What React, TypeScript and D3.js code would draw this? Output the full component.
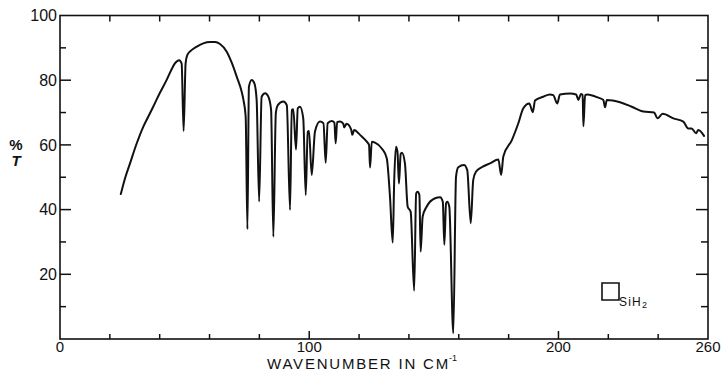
import React from "react";
import * as d3 from "d3";

// Wavenumber (cm^-1) and %T readings along the traced spectrum
const wavenumber: number[] = [
  24.4, 26.1, 28.1, 30.8, 33.4, 35.4, 37.4, 40.1, 42.8, 44.8, 46.1, 47.8, 48.8, 49.6, 50.4,
  51.1, 52.8, 54.9, 57.5, 60.2, 62.2, 64.2, 66.9, 68.9, 70.9, 72.9, 73.6, 74.5, 75.2, 75.8,
  76.9, 78.0, 78.9, 79.9, 80.9, 82.3, 83.6, 84.7, 85.6, 86.6,
  87.4, 89.6, 91.0, 92.3, 93.0, 93.6, 94.7, 95.4, 96.3, 97.6, 98.6, 99.4, 99.9, 101.0, 102.3,
  104.3, 105.7, 106.6, 107.4, 109.0, 110.1, 110.6, 111.2, 112.4, 113.7, 114.0, 115.0, 116.8,
  117.3, 118.0, 120.4, 123.1, 124.0, 124.4, 125.1, 126.4, 129.1, 131.1, 132.4, 133.5, 134.1,
  134.8, 135.4, 136.0, 136.7, 137.2, 138.4, 139.5, 140.7, 142.1, 142.9, 143.5, 144.2, 144.7,
  145.5, 147.1, 150.5, 152.5, 153.6, 154.2, 154.9, 155.4, 156.2, 157.8, 158.9, 159.8, 162.1,
  163.4, 164.8, 165.8, 166.9, 169.2, 172.5, 175.9, 177.0, 177.9, 181.3, 183.9, 185.9, 188.3,
  189.7, 190.6, 193.9, 196.6, 197.9, 199.5, 200.6, 204.7, 207.1, 208.0, 209.0, 209.7, 210.0,
  210.7, 211.6, 216.0, 218.0, 218.7, 219.4, 224.7, 229.4, 234.1, 238.4, 239.7, 241.8, 246.1,
  250.1, 252.1, 253.4, 255.2, 256.1, 258.4,
];
const transmittance: number[] = [
  44.8, 49.7, 54.3, 60.5, 65.6, 68.7, 71.8, 76.1, 80.1, 83.4, 85.2, 86.2, 85.2, 64.3, 85.2,
  87.8, 89.3, 90.4, 91.4, 91.8, 91.8, 91.2, 88.8, 85.4, 81.1, 76.4, 73.9, 68.7, 33.9, 78.0,
  80.1, 79.0, 73.9, 42.5, 74.9, 76.0, 74.9, 70.8, 31.6, 69.8,
  72.3, 73.4, 72.3, 39.9, 70.8, 71.0, 58.6, 71.3, 71.8, 68.2, 44.5, 64.1, 64.3, 50.7, 64.1,
  67.2, 66.7, 54.5, 66.7, 67.4, 66.9, 60.5, 67.1, 67.2, 66.5, 65.4, 66.5, 64.8,
  63.1, 64.6, 63.1, 61.0, 60.0, 53.0, 61.0, 60.7, 58.9, 55.9, 44.0, 29.8, 49.1,
  59.4, 57.9, 48.1, 57.2, 57.6, 54.3, 40.9, 39.3, 14.9, 45.0, 45.5, 44.5, 27.0,
  37.8, 40.9, 43.5, 43.8, 42.4, 29.1, 41.9, 42.4, 40.9, 1.8, 50.2, 53.1, 53.8,
  52.2, 35.8, 49.1, 51.7, 53.1, 54.3, 55.5, 50.7, 56.5, 61.5, 66.7, 71.3, 72.8,
  70.1, 73.7, 74.9, 75.6, 75.4, 72.8, 75.6, 75.9, 75.6, 73.9, 75.7, 75.4, 65.8,
  75.4, 75.6, 74.6, 73.9, 71.6, 73.9, 73.2, 71.8, 70.3, 70.0, 68.2, 69.6, 68.2,
  67.2, 65.1, 65.1, 63.6, 64.6, 62.8,
];

const xLabelValues: number[] = [0, 100, 200, 260];
const yLabelValues: number[] = [20, 40, 60, 80, 100];
const xTickValues: number[] = [20, 40, 60, 80, 100, 120, 140, 160, 180, 200, 220, 240];
const yTickValues: number[] = [10, 20, 30, 40, 50, 60, 70, 80, 90];

const W = 725;
const H = 375;
const FONT = "'Liberation Sans', Arial, Helvetica, sans-serif";
const INK = "#111";

export default function App() {
  const x = d3.scaleLinear().domain([0, 260]).range([60, 708]);
  const y = d3.scaleLinear().domain([0, 100]).range([339, 15.5]);

  const pts: [number, number][] = wavenumber.map((w, i) => [w, transmittance[i]]);
  const line = d3
    .line<[number, number]>()
    .x((d) => x(d[0]))
    .y((d) => y(d[1]))
    .curve(d3.curveMonotoneX);

  const x0 = x(0), x1 = x(260), yb = y(0), yt = y(100);

  return (
    <svg
      width={W}
      height={H}
      style={{ position: "absolute", left: 0, top: 0, background: "#fff" }}
      fontFamily={FONT}
    >
      <rect x={0} y={0} width={W} height={H} fill="#fff" />
      {/* frame */}
      <rect x={x0} y={yt} width={x1 - x0} height={yb - yt} fill="none" stroke={INK} strokeWidth={1.6} />

      {/* left & right ticks */}
      {yTickValues.map((v) => {
        const major = v % 20 === 0;
        return (
          <g key={"yt" + v}>
            <line x1={x0} x2={x0 + (major ? 11 : 6)} y1={y(v)} y2={y(v)} stroke={INK} strokeWidth={1.5} />
            <line x1={x1} x2={x1 - (major ? 12 : 7)} y1={y(v)} y2={y(v)} stroke={INK} strokeWidth={1.5} />
          </g>
        );
      })}
      {/* top & bottom ticks */}
      {xTickValues.map((v) => {
        const major = v % 100 === 0;
        return (
          <g key={"xt" + v}>
            <line x1={x(v)} x2={x(v)} y1={yt} y2={yt + 6} stroke={INK} strokeWidth={1.5} />
            <line x1={x(v)} x2={x(v)} y1={yb} y2={yb - (major ? 8 : 5)} stroke={INK} strokeWidth={1.5} />
          </g>
        );
      })}

      {/* y labels */}
      {yLabelValues.map((v) => (
        <text key={"yl" + v} x={57} y={y(v)} dy="0.36em" textAnchor="end" fontSize={16} fill={INK}>
          {v}
        </text>
      ))}
      {/* x labels */}
      {xLabelValues.map((v) => (
        <text key={"xl" + v} x={x(v)} y={352} textAnchor="middle" fontSize={15} fill={INK}>
          {v}
        </text>
      ))}

      {/* axis titles */}
      <text x={16} y={150} textAnchor="middle" fontSize={15} fontWeight="bold" fill={INK}>%</text>
      <text x={16} y={166} textAnchor="middle" fontSize={15} fontStyle="italic" fontWeight="bold" fill={INK}>T</text>
      <text x={267} y={369} fontSize={15} letterSpacing={1.8} fill={INK}>
        WAVENUMBER IN CM
      </text>
      <text x={449} y={361} fontSize={9} fill={INK}>-1</text>

      {/* inset structure */}
      <path d="M602,283 H619 V300 H602 Z" fill="none" stroke={INK} strokeWidth={1.6} />
      <text x={619} y={306} fontSize={12} letterSpacing={1.2} fill={INK}>
        SiH<tspan fontSize={9} dy={1.5}>2</tspan>
      </text>

      {/* spectrum */}
      <path d={line(pts) || ""} fill="none" stroke={INK} strokeWidth={2} strokeLinejoin="round" strokeLinecap="round" />
    </svg>
  );
}
